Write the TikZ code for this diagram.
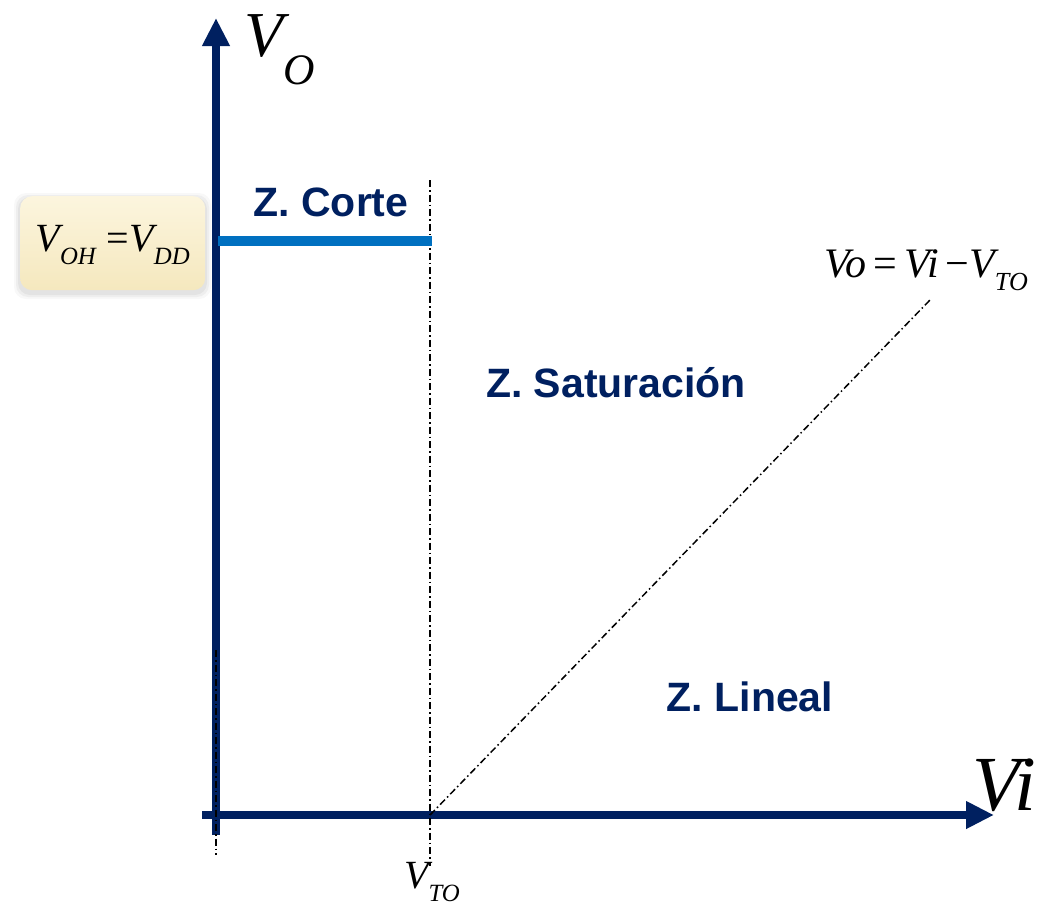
\documentclass[tikz,border=0pt]{standalone}
\usepackage{fontspec}
\setmainfont{Liberation Serif}
\newfontfamily\arialb{Liberation Sans}[BoldFont={Liberation Sans Bold}]
\usetikzlibrary{arrows.meta}
\definecolor{navy}{RGB}{0,32,96}
\definecolor{lblue}{RGB}{0,112,192}
\definecolor{boxtop}{RGB}{252,245,222}
\definecolor{boxbot}{RGB}{245,232,190}
\newcommand\mysub[1]{\raisebox{-0.32em}{\scalebox{0.62}{#1}}}
\tikzset{
  axis/.style={draw=navy,line width=8pt,-{Triangle[length=28pt,width=26pt]}},
  dd/.style={line width=1.5pt,dash pattern=on 7pt off 3pt on 1.5pt off 3pt},
  zone/.style={text=navy,font=\arialb\bfseries\fontsize{41}{41}\selectfont,inner sep=0pt},
  lab/.style={font=\fontsize{40}{40}\selectfont\itshape,inner sep=0pt}
}
\begin{document}
\begin{tikzpicture}[x=1pt,y=-1pt]
\useasboundingbox (0,0) rectangle (1038,905);
% coordinates
\coordinate (ybot) at (216,835);
\coordinate (ytop) at (216,18);
\coordinate (xleft) at (202,815);
\coordinate (xright) at (994,815);
\coordinate (vt) at (430,815);
\coordinate (vttop) at (430,180);
\coordinate (vtbot) at (430,866);
\coordinate (diagend) at (930,300);
\coordinate (ldtop) at (216,650);
\coordinate (ldbot) at (216,855);
\coordinate (hl) at (218,241);
\coordinate (hr) at (432,241);
% box with soft shadow
\foreach \s/\o in {6/0.06,4/0.08,2/0.10}{
  \fill[gray,opacity=\o,rounded corners=12pt] (20-\s,196-\s+3) rectangle (205+\s,290+\s+3);
}
\node[draw=none,rounded corners=12pt,top color=boxtop,bottom color=boxbot,
  minimum width=185pt,minimum height=94pt,inner sep=0pt,anchor=north west] (box) at (20,196) {};
\node[lab,font=\fontsize{40}{40}\selectfont] (voh) at ([yshift=-2pt]box.center) {\itshape V\mysub{\itshape OH}\;\upshape=\itshape V\mysub{\itshape DD}};
% axes
\draw[axis] (ybot) -- (ytop);
\draw[axis] (xleft) -- (xright);
% dash-dot lines
\draw[dd] (ldtop) -- (ldbot);
\draw[dd] (vttop) -- (vtbot);
\draw[dd] (vt) -- (diagend);
% blue level
\draw[lblue,line width=10pt] (hl) -- (hr);
% labels
\node[lab,font=\fontsize{64}{64}\selectfont,anchor=north west] (vo) at (244,14) {\itshape V\raisebox{-0.45em}{\scalebox{0.68}{\itshape O}}};
\node[lab,font=\fontsize{78}{78}\selectfont,anchor=south west] (vi) at (972,812) {\itshape Vi};
\node[lab,font=\fontsize{40}{40}\selectfont] (vto) at (432,882) {\itshape V\mysub{\itshape TO}};
\node[lab,font=\fontsize{42}{42}\selectfont,anchor=east] (eq) at (1028,270) {\itshape Vo\,\upshape=\,\itshape Vi\,\upshape−\itshape V\mysub{\itshape TO}};
\node[zone] (corte) at (331,202) {Z. Corte};
\node[zone] (sat) at (616,383) {Z. Saturación};
\node[zone] (lin) at (750,697) {Z. Lineal};
\end{tikzpicture}
\end{document}
